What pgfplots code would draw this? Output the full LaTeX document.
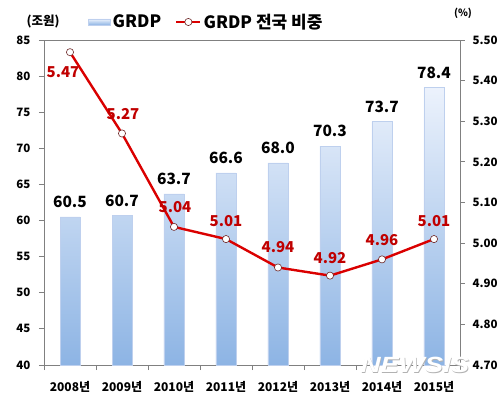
\documentclass[border=0pt]{standalone}
\usepackage{fontspec}
\setmainfont{Noto Sans CJK KR}
\newfontfamily\wmfont{Liberation Sans}
\usepackage{pgfplots}
\pgfplotsset{compat=1.18}
\usepackage{pgfplotstable}

\definecolor{barTop}{RGB}{236,242,252}
\definecolor{barBot}{RGB}{141,180,228}
\definecolor{barEdge}{RGB}{190,208,238}
\definecolor{lineRed}{RGB}{218,0,0}
\definecolor{labRed}{RGB}{192,0,0}
\definecolor{markEdge}{RGB}{110,40,40}
\definecolor{axGray}{RGB}{128,128,128}

\pgfplotstableread{
x v
0 60.5
1 60.7
2 63.7
3 66.6
4 68.0
5 70.3
6 73.7
7 78.4
}\grdp

\pgfplotstableread{
x v dx dy
0 5.47 -7 -20
1 5.27 1 19
2 5.04 1 20
3 5.01 0 18
4 4.94 0 20
5 4.92 0 18
6 4.96 0 19
7 5.01 0 18
}\share

\begin{document}
\begin{tikzpicture}[x=1pt,y=1pt]
\useasboundingbox (0,0) rectangle (500,399);
\begin{axis}[
  at={(44pt,34pt)}, anchor=south west,
  scale only axis, width=416pt, height=325pt,
  xmin=-0.5, xmax=7.5, ymin=40, ymax=85,
  ytick={40,45,...,85},
  xtick={-0.5,0.5,...,7.5},
  x tick label as interval,
  xticklabels={2008년,2009년,2010년,2011년,2012년,2013년,2014년,2015년},
  xtick pos=lower, ytick pos=left,
  tick align=outside, major tick length=5pt,
  axis line style={axGray, line width=0.8pt},
  tick style={axGray, line width=0.8pt},
  /pgf/number format/assume math mode=true,
  ticklabel style={font=\bfseries\fontsize{11.5}{13}\selectfont, text=black},
  yticklabel style={xshift=-5pt},
  xticklabel style={yshift=-8pt, font=\bfseries\fontsize{12}{14}\selectfont},
  ybar, bar width=20pt, bar shift=0pt,
  clip=false,
  nodes near coords={\pgfmathprintnumber[fixed,fixed zerofill,precision=1]{\pgfplotspointmeta}},
  every node near coord/.append style={anchor=center, yshift=15pt, text=black,
     font=\bfseries\fontsize{15.5}{17}\selectfont},
]
\addplot[draw=barEdge, line width=0.5pt, top color=barTop, bottom color=barBot] table[x=x,y=v]{\grdp};
\end{axis}

\begin{axis}[
  at={(44pt,34pt)}, anchor=south west,
  scale only axis, width=416pt, height=325pt,
  xmin=-0.5, xmax=7.5, ymin=4.70, ymax=5.50,
  axis y line*=right, axis x line=none,
  ytick={4.70,4.80,4.90,5.00,5.10,5.20,5.30,5.40,5.50},
  yticklabel={\pgfmathprintnumber[fixed,fixed zerofill,precision=2]{\tick}},
  tick align=outside, major tick length=5pt,
  axis line style={axGray, line width=0.8pt},
  tick style={axGray, line width=0.8pt},
  /pgf/number format/assume math mode=true,
  ticklabel style={font=\bfseries\fontsize{11.5}{13}\selectfont, text=black},
  yticklabel style={xshift=4pt},
  clip=false,
  legend style={at={(0.1058,1.0554)}, anchor=west, draw=none, fill=none,
     font=\bfseries\fontsize{17}{19}\selectfont, legend columns=2,
     /tikz/every even column/.append style={column sep=12pt},
     legend cell align=left, inner sep=0pt},
]
\addlegendimage{legend image code/.code={\shade[top color=barTop, bottom color=barBot, draw=barEdge] (0pt,-3pt) rectangle (22pt,3pt);}}
\addlegendentry{GRDP}
\addplot[lineRed, line width=2.4pt, mark=*, mark size=3.6pt,
   mark options={fill=white, draw=markEdge, line width=0.6pt},
   visualization depends on={\thisrow{dx} \as \dx},
   visualization depends on={\thisrow{dy} \as \dy},
   nodes near coords={\pgfmathprintnumber[fixed,fixed zerofill,precision=2]{\pgfplotspointmeta}},
   every node near coord/.append style={anchor=center, xshift=\dx pt, yshift=\dy pt,
      text=labRed, font=\bfseries\fontsize{15}{17}\selectfont},
   legend image code/.code={\draw[lineRed, line width=2.4pt] (0pt,0pt) -- (24pt,0pt);
      \draw[markEdge, fill=white, line width=0.6pt] (12pt,0pt) circle (3.6pt);}
] table[x=x,y=v]{\share};
\addlegendentry{GRDP 전국 비중}
\end{axis}

\node[font=\bfseries\fontsize{12.5}{14}\selectfont] at (43,377) {(조원)};
\node[font=\bfseries\fontsize{10}{12}\selectfont] at (463,386) {(\%)};
\node[font=\wmfont\bfseries\itshape\fontsize{22}{24}\selectfont, text=gray!60, xscale=1.25] at (415.7,33.4) {NEWSIS};
\node[font=\wmfont\bfseries\itshape\fontsize{22}{24}\selectfont, text=white, xscale=1.25] at (415,34) {NEWSIS};
\end{tikzpicture}
\end{document}
